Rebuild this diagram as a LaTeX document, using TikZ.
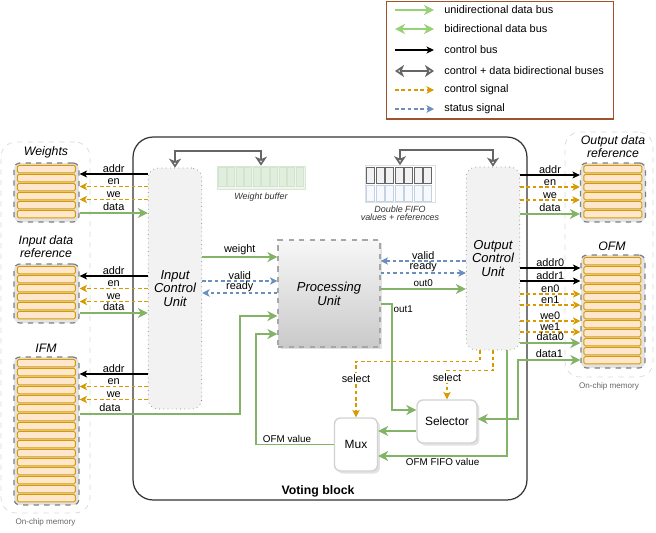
\documentclass[tikz,border=0pt]{standalone}
\usepackage{fontspec}
\setmainfont{Liberation Sans}
\usetikzlibrary{positioning,arrows.meta,shadows}

\definecolor{busgreen}{HTML}{82B366}
\definecolor{leggreen}{HTML}{97D077}
\definecolor{sigorange}{HTML}{D79B00}
\definecolor{statblue}{HTML}{6C8EBF}
\definecolor{memorange}{HTML}{FFE6CC}
\definecolor{unitgray}{HTML}{F2F2F2}
\definecolor{bufgreen}{HTML}{D5E8D4}
\definecolor{legbrown}{HTML}{A0522D}
\definecolor{busgray}{HTML}{666666}

\begin{document}
\begin{tikzpicture}[x=0.02cm,y=-0.02cm,
  font=\fontsize{6.2}{7}\selectfont,
  grp/.style={draw=gray!30,dashed,rounded corners=3mm},
  mem/.style={draw=gray,dashed,fill=gray!22,rounded corners=1.2mm,line width=0.7pt},
  memrow/.style={draw=sigorange,fill=memorange,rounded corners=0.3mm,line width=0.5pt},
  cu/.style={draw=gray,dotted,fill=unitgray,rounded corners=2mm,align=center,
    minimum width=10.4mm,font=\fontsize{7.4}{7.7}\selectfont\itshape},
  blk/.style={draw=gray!35,fill=white,rounded corners=1.2mm,line width=0.8pt,
    drop shadow={shadow xshift=0.5mm,shadow yshift=-0.5mm,fill=gray!45},
    font=\fontsize{6.8}{8}\selectfont},
  ttl/.style={inner sep=0pt,align=center,font=\fontsize{7}{7.4}\selectfont\itshape},
  note/.style={inner sep=0pt,align=center,text=black!80,font=\fontsize{5.1}{4.8}\selectfont\itshape},
  lbl/.style={above,inner sep=0.6pt},
  lbls/.style={inner sep=0.6pt,font=\fontsize{5.6}{6}\selectfont},
  sel/.style={fill=white,inner sep=0.6pt},
  dbus/.style={draw=busgreen,line width=1.1pt,>={Stealth[length=2mm,width=2mm,inset=0.6mm]},->},
  bdbus/.style={dbus,<->},
  cbus/.style={draw=black,line width=0.6pt,>={Stealth[length=1.5mm,width=1.4mm,inset=0.4mm]},->},
  cdbus/.style={draw=busgray,line width=1.3pt,>={Stealth[open,length=1.8mm,width=2.4mm,inset=0.5mm]},<->},
  csig/.style={draw=sigorange,line width=0.6pt,dash pattern=on 2pt off 1.6pt,
    >={Stealth[length=1.5mm,width=1.5mm,inset=0.4mm]},->},
  ssig/.style={csig,draw=statblue},
  ldbus/.style={dbus,draw=leggreen},
  lbdbus/.style={bdbus,draw=leggreen}]
\useasboundingbox (0,0) rectangle (656,532);

% on-chip memory groups
\node[grp,minimum width=17.8mm,minimum height=74.2mm] (lgrp) at (45.5,327.5) {};
\node[grp,minimum width=17.6mm,minimum height=49mm] (rgrp) at (609,254.5) {};
\node[below=1mm of lgrp,inner sep=0pt,text=black!60,font=\fontsize{4.6}{5}\selectfont] (lgrpl) {On-chip memory};
\node[below=1mm of rgrp,inner sep=0pt,text=black!60,font=\fontsize{4.6}{5}\selectfont] (rgrpl) {On-chip memory};

% voting block
\node[draw=black!80,line width=0.7pt,rounded corners=4mm,minimum width=78.8mm,minimum height=72.6mm] (vb) at (330,318.5) {};
\node[font=\fontsize{7}{8}\selectfont\bfseries] (vbl) at (318,491) {Voting block};

% legend
\node[draw=legbrown,line width=0.6pt,minimum width=45.4mm,minimum height=23.6mm,anchor=north west] (leg) at (386,0.5) {};
\foreach \y/\s/\txt [count=\i] in {10/ldbus/unidirectional data bus,29/lbdbus/bidirectional data bus,
    50/cbus/control bus,71/cdbus/control + data bidirectional buses,90/csig/control signal,109/ssig/status signal}
{
  \node[anchor=west,inner sep=0pt] (leg\i) at (444,\y) {\txt};
  \draw[\s] ([xshift=-9.8mm]leg\i.west) -- ([xshift=-2mm]leg\i.west);
}

% memories
\node[mem,minimum width=13mm,minimum height=11.8mm] (wmem) at (46.5,192.5) {};
\node[mem,minimum width=13mm,minimum height=11.8mm] (imem) at (46.5,293.5) {};
\node[mem,minimum width=13mm,minimum height=29.6mm] (ifm) at (46.5,431) {};
\node[mem,minimum width=13mm,minimum height=11.8mm] (omem) at (613,192.5) {};
\node[mem,minimum width=12.8mm,minimum height=22.6mm] (ofm) at (613,311.5) {};
\foreach \i in {0,...,5} {
  \draw[memrow] (wmem.north west) ++(4,3+9*\i) rectangle ++(58,7.5);
  \draw[memrow] (imem.north west) ++(4,3+9*\i) rectangle ++(58,7.5);
  \draw[memrow] (omem.north west) ++(4,3+9*\i) rectangle ++(58,7.5);
}
\foreach \i in {0,...,15} \draw[memrow] (ifm.north west) ++(4,3+9*\i) rectangle ++(58,7.5);
\foreach \i in {0,...,11} \draw[memrow] (ofm.north west) ++(3.5,3+9*\i) rectangle ++(57,7.5);
\node[ttl] (wttl) at (46,152) {Weights};
\node[ttl] (ittl) at (46,247) {Input data\\reference};
\node[ttl] (ifmttl) at (46,348) {IFM};
\node[ttl] (ottl) at (613,146.5) {Output data\\reference};
\node[ttl] (ofmttl) at (612,246) {OFM};

% units
\node[cu,minimum height=48.2mm] (icu) at (175,288.5) {Input\\Control\\Unit};
\node[cu,minimum height=36.6mm] (ocu) at (493,258.5) {Output\\Control\\Unit};
\node[draw=gray!70,dashed,line width=0.7pt,top color=gray!6,bottom color=gray!42,
      drop shadow={shadow xshift=0.5mm,shadow yshift=-0.5mm,fill=gray!45},
      minimum width=20.4mm,minimum height=21.4mm,align=center,
      font=\fontsize{7.4}{8}\selectfont\itshape] (pu) at (329,293.5) {Processing\\Unit};
\node[blk,minimum width=12mm,minimum height=8.6mm] (sel) at (447,421.5) {Selector};
\node[blk,minimum width=8.6mm,minimum height=10.6mm] (mux) at (356,444.5) {Mux};

% buffers
\node[draw=bufgreen,fill=bufgreen!40,minimum width=17.6mm,minimum height=4.6mm,inner sep=0pt] (wbuf) at (261,177.5) {};
\foreach \i in {0,...,9} \draw[draw=busgreen!35,fill=bufgreen!75] (wbuf.north west) ++(2+8.6*\i,2) rectangle ++(7.2,19);
\node[note,below=0.6mm of wbuf] (wbufl) {Weight buffer};
\node[draw=gray!25,fill=white,minimum width=14mm,minimum height=7.4mm,inner sep=0pt] (fifo) at (400,184) {};
\foreach \i in {0,...,6} {
  \draw[draw=busgray,fill=unitgray] (fifo.north west) ++(2+9.5*\i,2) rectangle ++(8,16);
  \draw[draw=statblue!40,fill=statblue!5] (fifo.north west) ++(2+9.5*\i,20) rectangle ++(8,16);
}
\node[note,below=0.5mm of fifo] (fifol) {Double FIFO\\values + references};
\draw[cdbus] (icu.north) -- ++(0,-17) -| (wbuf.north);
\draw[cdbus] (ocu.north) -- ++(0,-17) -| (fifo.north);

% input side
\foreach \m/\y in {wmem/174,imem/276,ifm/374} {
  \draw[cbus] (icu.west |- 0,\y) -- (\m.east |- 0,\y) node[lbl,midway]{addr};
  \draw[csig] (icu.west |- 0,\y+12.5) -- (\m.east |- 0,\y+12.5) node[lbl,midway]{en};
  \draw[csig] (icu.west |- 0,\y+25.5) -- (\m.east |- 0,\y+25.5) node[lbl,midway]{we};
}
\draw[dbus] (wmem.east |- 0,213) -- (icu.west |- 0,213) node[lbl,midway]{data};
\draw[dbus] (imem.east |- 0,313) -- (icu.west |- 0,313) node[lbl,midway]{data};
\draw[dbus] (ifm.east |- 0,414) -- ++(160,0) node[lbl,pos=0.19]{data} |- (pu.west |- 0,316);

% output side
\draw[cbus] (ocu.east |- 0,175) -- (omem.west |- 0,175) node[lbl,midway]{addr};
\draw[csig] (ocu.east |- 0,187) -- (omem.west |- 0,187) node[lbl,midway]{en};
\draw[csig] (ocu.east |- 0,200) -- (omem.west |- 0,200) node[lbl,midway]{we};
\draw[dbus] (ocu.east |- 0,214) -- (omem.west |- 0,214) node[lbl,midway]{data};
\foreach \y/\s/\txt in {268/cbus/addr0,281/cbus/addr1,294/csig/en0,305/csig/en1,321/csig/we0,332/csig/we1,343/dbus/data0}
  \draw[\s] (ocu.east |- 0,\y) -- (ofm.west |- 0,\y) node[lbl,midway]{\txt};
\draw[bdbus] (ofm.west |- 0,360) -- ++(-62,0) node[lbl,midway]{data1} |- (sel.east |- 0,419);

% processing unit links
\draw[dbus] (icu.east |- 0,257) -- (pu.west |- 0,257) node[lbl,midway]{weight};
\draw[ssig] (icu.east |- 0,281) -- (pu.west |- 0,281) node[lbl,midway]{valid};
\draw[ssig] (pu.west |- 0,293) -- (icu.east |- 0,293) node[lbl,midway]{ready};
\draw[ssig] (ocu.west |- 0,261) -- (pu.east |- 0,261) node[lbl,midway]{valid};
\draw[ssig] (pu.east |- 0,273) -- (ocu.west |- 0,273) node[lbl,midway]{ready};
\draw[dbus] (pu.east |- 0,289) -- (ocu.west |- 0,289) node[lbls,above,midway]{out0};
\draw[dbus] (pu.east |- 0,304) -- ++(11,0) node[lbls,below right]{out1} |- (sel.west |- 0,410);

% selector / mux
\draw[dbus] (sel.west |- 0,431) -- (mux.east |- 0,431);
\draw[dbus] (mux.west) -- ++(-78,0) node[lbls,above,pos=0.6]{OFM value} |- (pu.west |- 0,334);
\draw[dbus] ([xshift=2.8mm]ocu.south) |- ([yshift=-2.3mm]mux.east) node[lbls,below,pos=0.75]{OFM FIFO value};
\draw[csig] ([xshift=-2.6mm]ocu.south) -- ++(0,11) -| (mux.north) node[sel,pos=0.65]{select};
\draw[csig] (ocu.south) -- ++(0,20) -| (sel.north) node[sel,pos=0.63]{select};
\end{tikzpicture}
\end{document}
